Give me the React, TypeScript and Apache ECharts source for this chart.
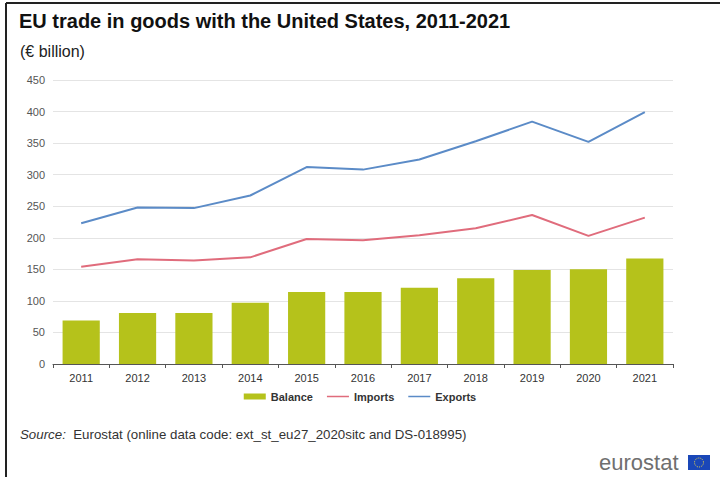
import React, { useEffect, useRef } from "react";
import * as echarts from "echarts";

const years = ["2011", "2012", "2013", "2014", "2015", "2016", "2017", "2018", "2019", "2020", "2021"];
const balance = [69, 81, 81, 97, 114, 114, 121, 136, 149, 150, 167];
const imports = [154, 166, 164, 169, 198, 196, 204, 215, 236, 203, 232];
const exports = [223, 248, 247, 267, 312, 308, 324, 353, 384, 352, 399];

const narrow = "'Liberation Sans Narrow', 'Arial Narrow', 'Liberation Sans', Arial, sans-serif";
const sans = "'Liberation Sans', Arial, sans-serif";
const lineIcon = "path://M0,0h0.01v0.01H0z M0,2.2h22v1.6H0z M21.99,5.99h0.01v0.01h-0.01z";

export default function App() {
  const ref = useRef<HTMLDivElement>(null);
  useEffect(() => {
    document.body.style.margin = "0";
    const chart = echarts.init(ref.current!, null, { renderer: "svg" });
    chart.setOption({
      animation: false,
      backgroundColor: "#fff",
      grid: { left: 53, right: 47, top: 80, bottom: 113 },
      legend: {
        bottom: 70,
        left: "center",
        itemWidth: 22,
        itemHeight: 6,
        itemGap: 14,
        textStyle: { fontFamily: narrow, fontSize: 11, fontWeight: "bold", color: "#333" },
        data: [
          { name: "Balance", icon: "rect" },
          { name: "Imports", icon: lineIcon },
          { name: "Exports", icon: lineIcon },
        ],
      },
      xAxis: {
        type: "category",
        data: years,
        axisLine: { lineStyle: { color: "#555", width: 1 } },
        axisTick: { show: true, alignWithLabel: false, length: 4, lineStyle: { color: "#555" } },
        axisLabel: { fontFamily: narrow, fontSize: 11, color: "#333", margin: 8 },
      },
      yAxis: {
        type: "value",
        min: 0,
        max: 450,
        interval: 50,
        axisLine: { show: false },
        axisTick: { show: false },
        axisLabel: { fontFamily: narrow, fontSize: 11, color: "#555", margin: 8 },
        splitLine: { lineStyle: { color: "#e4e4e4", width: 1 } },
      },
      series: [
        {
          name: "Balance",
          type: "bar",
          data: balance,
          barCategoryGap: "34%",
          itemStyle: { color: "#b5c21b" },
        },
        {
          name: "Imports",
          type: "line",
          data: imports,
          symbol: "none",
          lineStyle: { color: "#e06c7c", width: 2 },
          itemStyle: { color: "#e06c7c" },
        },
        {
          name: "Exports",
          type: "line",
          data: exports,
          symbol: "none",
          lineStyle: { color: "#5b8bc7", width: 2 },
          itemStyle: { color: "#5b8bc7" },
        },
      ],
      graphic: [
        { type: "line", shape: { x1: 6, y1: 3, x2: 720, y2: 3 }, style: { stroke: "#222", lineWidth: 2 } },
        { type: "line", shape: { x1: 6, y1: 3, x2: 6, y2: 477 }, style: { stroke: "#222", lineWidth: 2 } },
        {
          type: "text",
          left: 19,
          top: 11,
          style: {
            text: "EU trade in goods with the United States, 2011-2021",
            fontFamily: sans,
            fontSize: 20,
            fontWeight: "bold",
            fill: "#111",
          },
        },
        {
          type: "text",
          left: 20,
          top: 43,
          style: { text: "(€ billion)", fontFamily: sans, fontSize: 16, fill: "#222" },
        },
        {
          type: "text",
          left: 20,
          top: 428,
          style: {
            text: "{i|Source:}  Eurostat (online data code: ext_st_eu27_2020sitc and DS-018995)",
            fontFamily: narrow,
            fontSize: 13.3,
            fill: "#333",
            rich: {
              i: { fontStyle: "italic", fontFamily: narrow, fontSize: 13.3, fill: "#333" },
            },
          },
        },
        {
          type: "text",
          left: 599,
          top: 451,
          style: { text: "eurostat", fontFamily: sans, fontSize: 22, fill: "#6f6f6f" },
        },
        { type: "rect", shape: { x: 688, y: 455, width: 22, height: 15 }, style: { fill: "#1a47b8" } },
        { type: "circle", shape: { cx: 699, cy: 462.5, r: 4.5 }, style: { fill: "none", stroke: "#e8d24a", lineWidth: 1, lineDash: [1, 1] } },
      ],
    });
    return () => chart.dispose();
  }, []);
  return <div ref={ref} style={{ width: 720, height: 477 }} />;
}
